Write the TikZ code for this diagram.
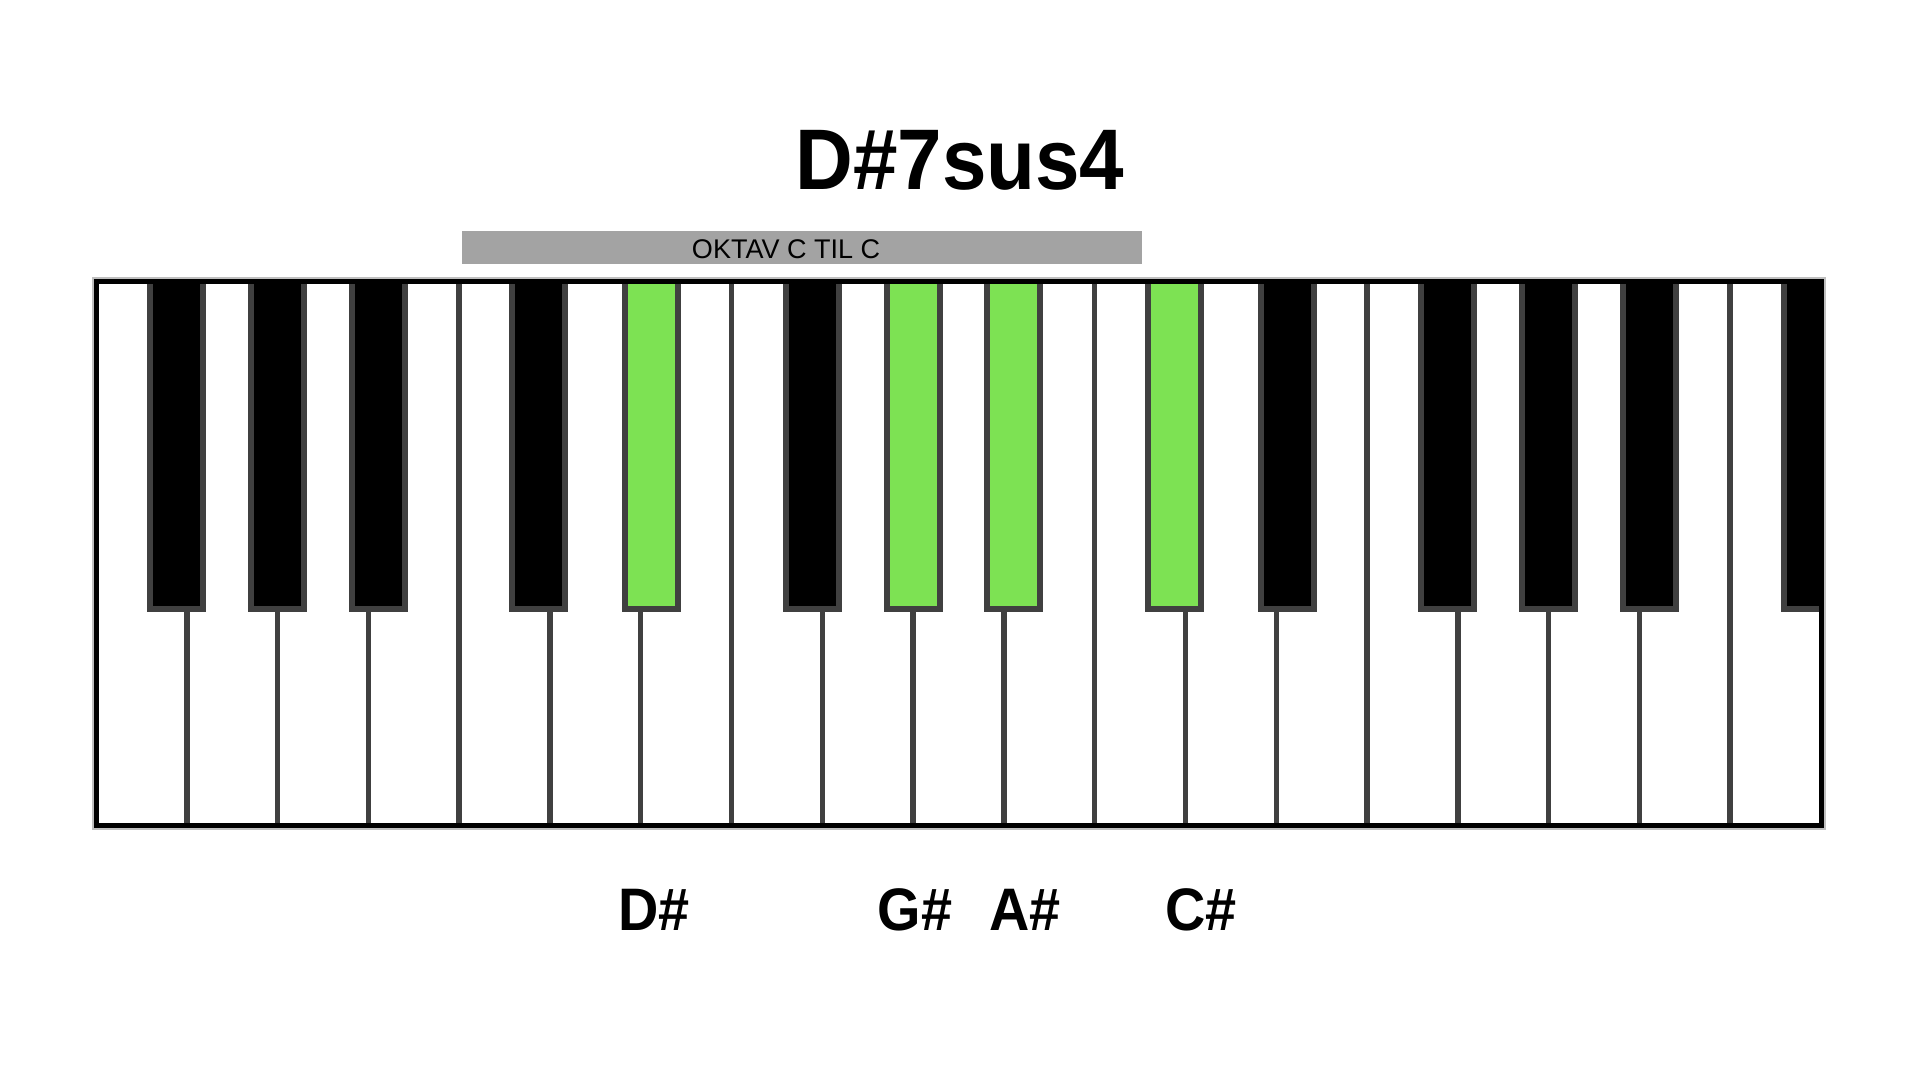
\documentclass[tikz,border=0pt]{standalone}
\usepackage{fontspec}
\setmainfont{Liberation Sans}
\newfontfamily\chordfont[FakeStretch=0.93]{Liberation Sans}
\usetikzlibrary{positioning}

\definecolor{keyedge}{HTML}{404040}
\definecolor{keygreen}{RGB}{125,226,83}
\definecolor{barfill}{HTML}{A3A3A3}

\begin{document}
\begin{tikzpicture}[x=1pt,y=-1pt,
  black key/.style={fill=black,draw=keyedge,line width=6pt},
  chord key/.style={fill=keygreen,draw=keyedge,line width=6pt},
  divider/.style={draw=keyedge,line width=5.5pt},
  frame/.style={draw=black,line width=5pt},
  note label/.style={anchor=base,font=\chordfont\bfseries\fontsize{60}{72}\selectfont}]

  \useasboundingbox[fill=white] (0,0) rectangle (1920,1080);

  % title and octave bar
  \node[anchor=base,font=\chordfont\bfseries\fontsize{86}{100}\selectfont] (title) at (960,189) {D\#7sus4};
  \fill[barfill] (462,231) rectangle (1142,264);
  \node[anchor=base,font=\fontsize{27}{30}\selectfont] (octave) at (786,258.5) {OKTAV C TIL C};

  % keyboard
  \draw[black!25,line width=9pt] (96,281) rectangle (1821,825);
  \fill[white] (96,281) rectangle (1821,825);
  \begin{scope}
    \clip (96,281) rectangle (1821,825);
    \foreach \i in {1,...,18}
      \draw[divider] (96+\i*90.79,270) -- (96+\i*90.79,830);
    \foreach \i/\d in {1/-10,2/0,3/10,5/-11,8/-10,13/11,15/-10,16/0,17/10,19/-11}
      \draw[black key] (96+\i*90.79+\d-26.5,270) rectangle (96+\i*90.79+\d+26.5,609);
    \foreach \i/\d in {6/11,9/0,10/10,12/-11}
      \draw[chord key] (96+\i*90.79+\d-26.5,270) rectangle (96+\i*90.79+\d+26.5,609);
  \end{scope}
  \draw[frame] (96,281) rectangle (1821,825);

  % chord notes
  \node[note label] (dis) at (654,930) {D\#};
  \node[note label] (gis) at (915,930) {G\#};
  \node[note label] (ais) at (1025,930) {A\#};
  \node[note label] (cis) at (1201,930) {C\#};
\end{tikzpicture}
\end{document}
